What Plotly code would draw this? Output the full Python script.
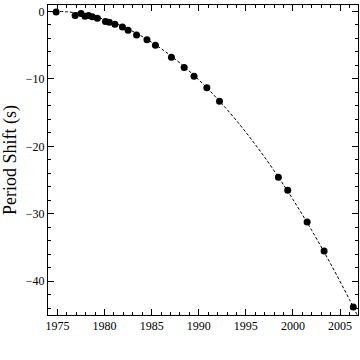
import plotly.graph_objects as go

# Observed data points (year, cumulative period shift in s)
obs_year = [1974.86, 1976.88, 1977.5, 1977.93, 1978.3, 1978.7, 1979.24, 1980.1, 1980.5,
            1981.1, 1981.9, 1982.5, 1983.4, 1984.5, 1985.4, 1987.1, 1988.45, 1989.5,
            1990.86, 1992.2, 1998.45, 1999.44, 2001.5, 2003.3, 2006.4]
obs_shift = [-0.1, -0.6, -0.3, -0.7, -0.6, -0.8, -1.0, -1.5, -1.6,
             -1.9, -2.3, -2.8, -3.5, -4.2, -5.0, -6.8, -8.3, -9.6,
             -11.3, -13.3, -24.6, -26.5, -31.2, -35.5, -43.8]

# Prediction curve
curve_year = [1974.2, 1976, 1978, 1980, 1982, 1984, 1986, 1988, 1990, 1992,
              1994, 1996, 1998, 2000, 2002, 2004, 2006, 2007]
curve_shift = [-0.02, -0.06, -0.45, -1.19, -2.28, -3.72, -5.51, -7.65, -10.14, -12.99,
               -16.18, -19.73, -23.63, -27.88, -32.48, -37.43, -42.73, -45.52]

x_ticks = [1975, 1980, 1985, 1990, 1995, 2000, 2005]
y_ticks = [0, -10, -20, -30, -40]

fig = go.Figure()
fig.add_trace(go.Scatter(x=curve_year, y=curve_shift, mode="lines",
                         line=dict(color="black", width=1, dash="3px,2px", shape="spline"),
                         hoverinfo="skip", showlegend=False))
fig.add_trace(go.Scatter(x=obs_year, y=obs_shift, mode="markers",
                         marker=dict(color="black", size=7), showlegend=False))

font = "Liberation Serif, Times New Roman, serif"
fig.update_layout(
    width=360, height=360,
    margin=dict(l=48, r=2, t=5, b=45),
    paper_bgcolor="white", plot_bgcolor="white",
    font=dict(family=font, size=12, color="black"),
    showlegend=False,
)
fig.update_xaxes(range=[1974.0, 2006.9], tickvals=x_ticks, ticks="inside", ticklen=6,
                 tickwidth=1, tickcolor="black",
                 minor=dict(dtick=1, tick0=1975, ticks="inside", ticklen=3, tickcolor="black"),
                 showline=True, linecolor="black", linewidth=1, mirror="allticks",
                 showgrid=False, zeroline=False, tickfont=dict(size=12, family=font))
fig.update_yaxes(range=[-45, 0.95], tickvals=y_ticks, ticks="inside", ticklen=6,
                 tickwidth=1, tickcolor="black",
                 minor=dict(dtick=2, tick0=0, ticks="inside", ticklen=3, tickcolor="black"),
                 showline=True, linecolor="black", linewidth=1, mirror="allticks",
                 showgrid=False, zeroline=False, tickfont=dict(size=12, family=font),
                 title=dict(text="Period Shift (s)", font=dict(size=18, family=font), standoff=7))

fig.write_html("out.html", config={"displayModeBar": False},
               post_script="document.body.style.margin='0px';")
